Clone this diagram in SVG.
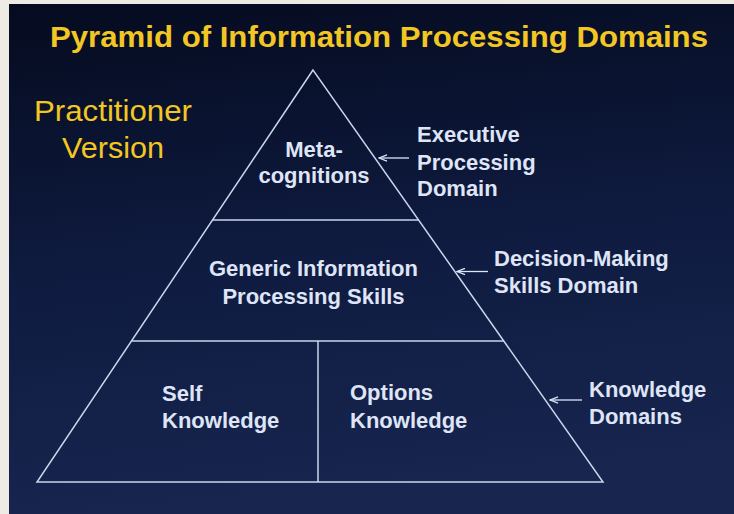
<svg xmlns="http://www.w3.org/2000/svg" width="734" height="514" viewBox="0 0 734 514">
<defs>
<linearGradient id="bg" x1="0" y1="0" x2="0.15" y2="1">
<stop offset="0" stop-color="#050b1f"/>
<stop offset="0.5" stop-color="#0e1a3e"/>
<stop offset="1" stop-color="#17254f"/>
</linearGradient>
<linearGradient id="pyr" x1="0" y1="0" x2="0" y2="1">
<stop offset="0" stop-color="#0c3566"/>
<stop offset="1" stop-color="#0a3262"/>
</linearGradient>
<marker id="ah" markerWidth="10" markerHeight="8" refX="9" refY="4" orient="auto" markerUnits="userSpaceOnUse">
<path d="M1,0.8 L9,4 L1,7.2" fill="none" stroke="#dfe5f7" stroke-width="1.3"/>
</marker>
<style>
.lbl{font-family:"Liberation Sans",Arial,sans-serif;font-weight:bold;font-size:22px;fill:#dfe5f7}
.yel{font-family:"Liberation Sans",Arial,sans-serif;fill:#f2c623}
.edge{fill:none;stroke:#c9d6ec;stroke-width:1.5}
.conn{stroke:#dfe5f7;stroke-width:1.3;fill:none;marker-end:url(#ah)}
</style>
</defs>
<rect x="0" y="0" width="734" height="514" fill="#eeebe4"/>
<rect x="9" y="4" width="725" height="510" fill="url(#bg)"/>
<text class="yel" x="379" y="47" font-size="30" font-weight="bold" text-anchor="middle" textLength="658" lengthAdjust="spacingAndGlyphs">Pyramid of Information Processing Domains</text>
<text class="yel" x="113" y="121" font-size="29" text-anchor="middle" textLength="158" lengthAdjust="spacingAndGlyphs">Practitioner</text>
<text class="yel" x="113" y="158" font-size="29" text-anchor="middle" textLength="102" lengthAdjust="spacingAndGlyphs">Version</text>
<g id="pyramid">
<polygon points="313,70 37,482 603,482" fill="url(#pyr)" class="edge"/>
</g>
<g id="metacognitions">
<line x1="212.5" y1="220" x2="418.5" y2="220" class="edge"/>
<text class="lbl" x="314" y="157" text-anchor="middle">Meta-</text>
<text class="lbl" x="314" y="183" text-anchor="middle">cognitions</text>
</g>
<g id="generic">
<line x1="131.5" y1="341" x2="503.7" y2="341" class="edge"/>
<text class="lbl" x="313.5" y="276" text-anchor="middle">Generic Information</text>
<text class="lbl" x="313.5" y="304" text-anchor="middle">Processing Skills</text>
</g>
<g id="self-knowledge">
<text class="lbl" x="162" y="401">Self</text>
<text class="lbl" x="162" y="428">Knowledge</text>
</g>
<g id="options-knowledge">
<line x1="318" y1="341" x2="318" y2="482" class="edge"/>
<text class="lbl" x="350" y="400">Options</text>
<text class="lbl" x="350" y="428">Knowledge</text>
</g>
<g id="executive-label">
<text class="lbl" x="417" y="142">Executive</text>
<text class="lbl" x="417" y="170">Processing</text>
<text class="lbl" x="417" y="196">Domain</text>
</g>
<g id="decision-label">
<text class="lbl" x="494" y="266">Decision-Making</text>
<text class="lbl" x="494" y="293">Skills Domain</text>
</g>
<g id="knowledge-label">
<text class="lbl" x="589" y="397">Knowledge</text>
<text class="lbl" x="589" y="424">Domains</text>
</g>
<g id="connectors">
<line x1="409" y1="158" x2="379" y2="158" class="conn"/>
<line x1="488" y1="271.5" x2="457" y2="271.5" class="conn"/>
<line x1="582" y1="400" x2="550" y2="400" class="conn"/>
</g>
</svg>
